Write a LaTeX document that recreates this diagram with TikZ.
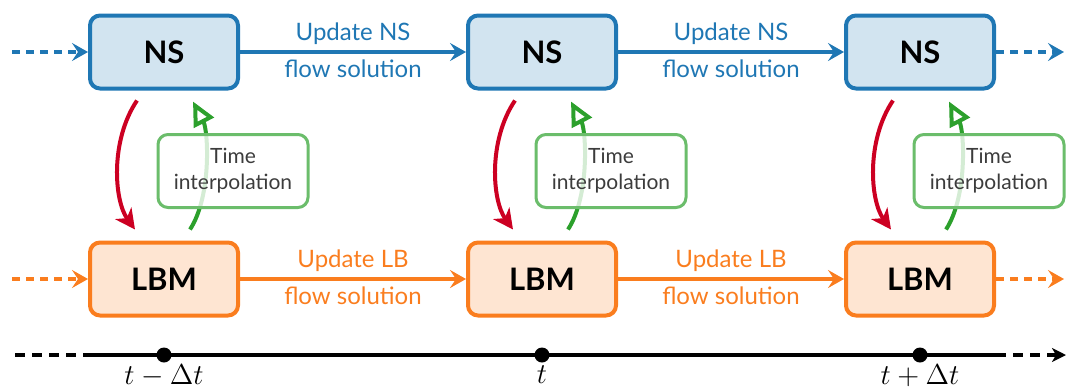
\documentclass[tikz,border=0pt]{standalone}
\usepackage{fontspec}
\setmainfont{Lato}
\usetikzlibrary{arrows.meta}
\definecolor{tblue}{RGB}{31,119,180}
\definecolor{torange}{RGB}{250,125,30}
\definecolor{tgreen}{RGB}{44,160,44}
\definecolor{tred}{RGB}{204,0,34}
\definecolor{tgray}{RGB}{60,60,60}
\begin{document}
\begin{tikzpicture}[x=0.5pt,y=-0.5pt,
  box/.style={rounded corners=5pt, line width=2pt, minimum width=74pt, minimum height=36.5pt,
    font=\fontsize{15.5}{18}\selectfont\bfseries, text=black},
  nsbox/.style={box, draw=tblue, fill=tblue!20},
  lbbox/.style={box, draw=torange, fill=torange!20},
  tibox/.style={rounded corners=5pt, line width=1.5pt, draw=tgreen!70, fill=white, fill opacity=0.8,
    text opacity=1, minimum width=75pt, minimum height=36.5pt, align=center,
    font=\fontsize{10.5}{13}\selectfont, text=tgray},
  flow/.style={line width=1.8pt, -{Stealth[length=8pt,width=9pt,inset=3pt]}},
  flowdash/.style={flow, dash pattern=on 4pt off 3pt},
  lab/.style={font=\fontsize{12}{14}\selectfont, inner sep=3pt},
  redarr/.style={draw=tred, line width=2pt, -{Stealth[length=10pt,width=10pt,inset=3pt]}},
  greenarr/.style={draw=tgreen, line width=2pt, -{Triangle[open,length=12pt,width=11pt]}},
  tline/.style={line width=2pt, black},
  tdash/.style={tline, dash pattern=on 5pt off 3.5pt},
  dot/.style={circle, fill=black, inner sep=0pt, minimum size=7.5pt},
  tlab/.style={font=\fontsize{15.5}{18}\selectfont, inner sep=1pt, anchor=north}
]
\useasboundingbox (0,0) rectangle (1067,387);

% boxes
\node[nsbox] (ns1) at (164,52) {NS};
\node[nsbox] (ns2) at (542,52) {NS};
\node[nsbox] (ns3) at (920,52) {NS};
\node[lbbox] (lb1) at (164,279) {LBM};
\node[lbbox] (lb2) at (542,279) {LBM};
\node[lbbox] (lb3) at (920,279) {LBM};

\coordinate (nsL) at (12,52);
\coordinate (nsR) at (1064,52);
\coordinate (lbL) at (12,279);
\coordinate (lbR) at (1064,279);

% horizontal flows
\draw[flowdash, draw=tblue] (nsL) -- (ns1);
\draw[flowdash, draw=tblue] (ns3) -- (nsR);
\draw[flowdash, draw=torange] (lbL) -- (lb1);
\draw[flowdash, draw=torange] (lb3) -- (lbR);
\draw[flow, draw=tblue] (ns1) -- node[lab, above, text=tblue] {Update NS} node[lab, below, text=tblue] {flow solution} (ns2);
\draw[flow, draw=tblue] (ns2) -- node[lab, above, text=tblue] {Update NS} node[lab, below, text=tblue] {flow solution} (ns3);
\draw[flow, draw=torange] (lb1) -- node[lab, above, text=torange] {Update LB} node[lab, below, text=torange] {flow solution} (lb2);
\draw[flow, draw=torange] (lb2) -- node[lab, above, text=torange] {Update LB} node[lab, below, text=torange] {flow solution} (lb3);

% coupling arrows
\foreach \i in {1,2,3}{
  \draw[redarr] ([shift={(-27,10)}]ns\i.south) .. controls ([shift={(-54,50)}]ns\i.south) and ([shift={(-50,-40)}]lb\i.north) .. ([shift={(-29,-11)}]lb\i.north);
  \draw[greenarr] ([shift={(26,-11)}]lb\i.north) .. controls ([shift={(48,-45)}]lb\i.north) and ([shift={(44,40)}]ns\i.south) .. ([shift={(29,11)}]ns\i.south);
  \node[tibox] (ti\i) at ([shift={(69,119)}]ns\i.center) {Time\\interpolation};
}

% timeline
\coordinate (t0) at (15,355);
\coordinate (t1) at (88,355);
\coordinate (t2) at (996,355);
\coordinate (t3) at (1066,355);
\draw[tdash] (t0) -- (t1);
\draw[tline] (t1) -- (t2);
\draw[tdash, -{Stealth[length=7pt,width=7pt,inset=2pt]}] (t2) -- (t3);
\node[dot] (d1) at (164,355) {};
\node[dot] (d2) at (542,355) {};
\node[dot] (d3) at (920,355) {};
\node[tlab] (l1) at (d1.south) {$t-\Delta t$};
\node[tlab] (l2) at (d2.south) {$t$};
\node[tlab] (l3) at (d3.south) {$t+\Delta t$};
\end{tikzpicture}
\end{document}
